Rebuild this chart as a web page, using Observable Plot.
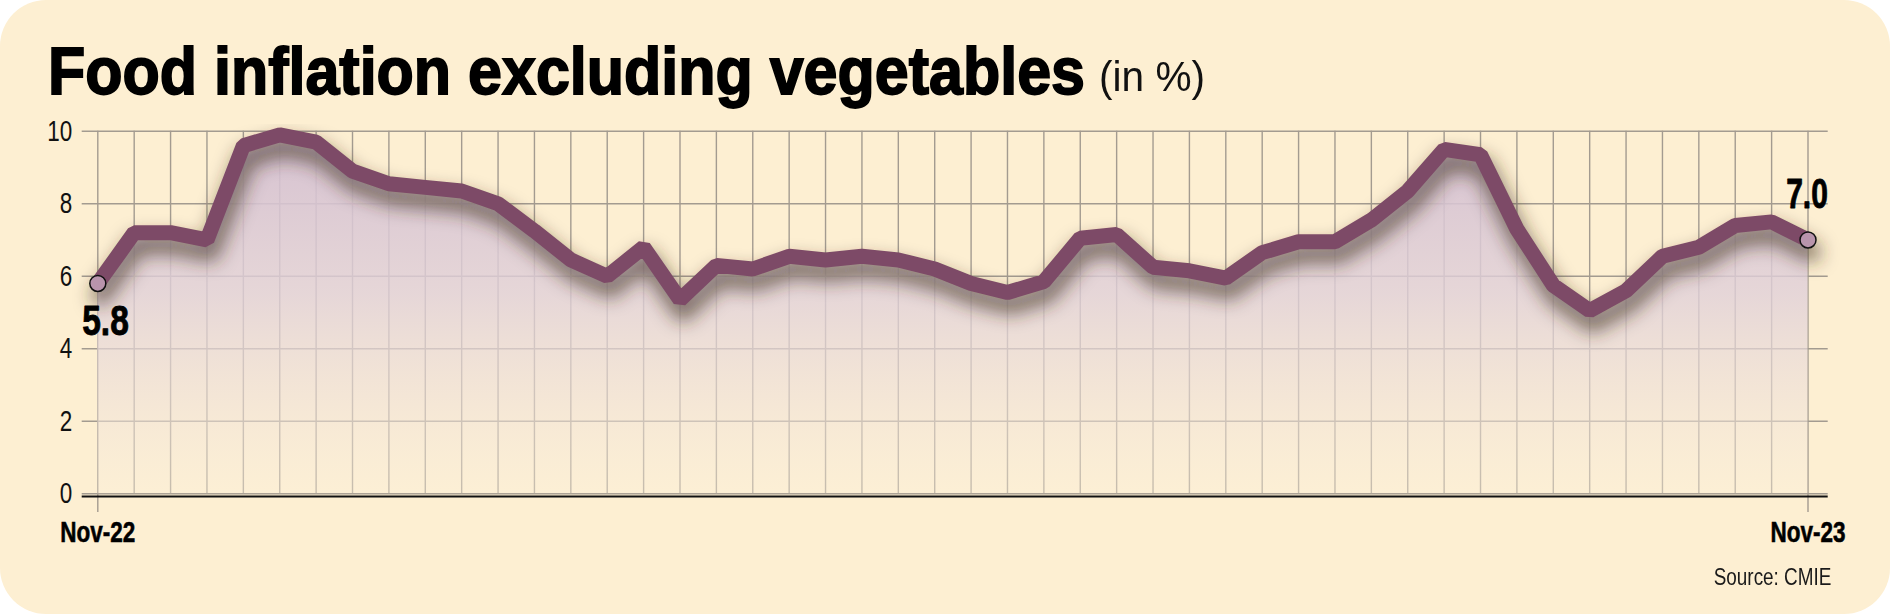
<!DOCTYPE html>
<html>
<head>
<meta charset="utf-8">
<script src="https://cdn.jsdelivr.net/npm/d3@7"></script>
<script src="https://cdn.jsdelivr.net/npm/@observablehq/plot@0.6"></script>
<style>
  html, body { margin: 0; padding: 0; background: #ffffff; }
  #card { position: absolute; left: 0; top: 0; width: 1890px; height: 614px; background: #fdefd2; border-radius: 46px; overflow: hidden; }
  .narrow { font-family: "Liberation Sans Narrow", "Arial Narrow", "Liberation Sans", sans-serif; }
  #title { position: absolute; left: 48px; font-size: 67px; line-height: 67px; font-weight: 700; color: #000; white-space: nowrap; -webkit-text-stroke: 1.8px #000; transform-origin: 0 0; }
  #unit { position: absolute; font-size: 42px; line-height: 42px; font-weight: 400; color: #111; white-space: nowrap; transform-origin: 0 0; }
  #source { position: absolute; font-size: 24px; line-height: 24px; color: #1a1a1a; white-space: nowrap; transform-origin: 100% 0; }
  #chart { position: absolute; left: 0; top: 112px; }
</style>
</head>
<body>
<div id="card">
  <div id="title" class="narrow">Food inflation excluding vegetables</div>
  <div id="unit" class="narrow">(in %)</div>
  <div id="chart"></div>
  <div id="source" class="narrow">Source: CMIE</div>
</div>
<script>
// ---- data ----
const values = [5.8, 7.2, 7.2, 7.0, 9.6, 9.9, 9.7, 8.9, 8.55, 8.45, 8.35, 8.0, 7.25, 6.45, 6.0, 6.8,
                5.35, 6.3, 6.2, 6.55, 6.45, 6.55, 6.45, 6.2, 5.8, 5.55, 5.85, 7.05, 7.15, 6.25, 6.15, 5.95,
                6.65, 6.95, 6.95, 7.55, 8.35, 9.5, 9.35, 7.3, 5.75, 5.05, 5.6, 6.55, 6.8, 7.4, 7.5, 7.0];
const yTicks = [0, 2, 4, 6, 8, 10];
const xTickPositions = [0, values.length - 1];
const xTickLabels = ["Nov-22", "Nov-23"];
const endLabels = ["5.8", "7.0"];

const data = values.map((v, i) => ({i, v}));
const ends = xTickPositions.map((p, k) => ({i: p, v: values[p], label: endLabels[k]}));

const F = "'Liberation Sans Narrow', 'Arial Narrow', 'Liberation Sans', sans-serif";
const grid = "#a39b90";
const shadowColor = "#3a2c22";

const chart = Plot.plot({
  width: 1890,
  height: 450,
  marginLeft: 81.7,
  marginRight: 62.3,
  marginTop: 18.7,
  marginBottom: 68.7,
  style: {background: "transparent", fontFamily: F, fontSize: "30px", color: "#111", overflow: "visible"},
  x: {domain: [0, values.length - 1], range: [97.3, 1807.5], ticks: xTickPositions,
      tickFormat: d => xTickLabels[xTickPositions.indexOf(d)], tickSize: 18.7, tickPadding: 8, label: null},
  y: {domain: [0, 10], ticks: yTicks, tickSize: 0, tickPadding: 10, label: null},
  marks: [
    Plot.ruleY(yTicks, {stroke: grid, strokeWidth: 1.4}),
    Plot.ruleX(data, {x: "i", y1: 0, y2: 10, stroke: grid, strokeWidth: 1.4}),
    Plot.areaY(data, {x: "i", y: "v", fill: "url(#areaGrad)"}),
    Plot.lineY(data, {x: "i", y: "v", stroke: shadowColor, strokeOpacity: 0.6, strokeWidth: 20, dx: 3, dy: 12}),
    Plot.ruleY([0], {stroke: "#111", strokeWidth: 2.2, dy: 2.7}),
    Plot.lineY(data, {x: "i", y: "v", stroke: "#7d4a67", strokeWidth: 15, strokeLinejoin: "miter"}),
    Plot.dot(ends, {x: "i", y: "v", r: 8, fill: "#b894ac", stroke: "#111", strokeWidth: 1.5}),
    Plot.text(ends.slice(0, 1), {x: "i", y: "v", text: "label", textAnchor: "start", dx: -15.6, dy: 38, fontSize: 42, fontWeight: 700, fill: "#000", stroke: "#000", strokeWidth: 0.9}),
    Plot.text(ends.slice(1), {x: "i", y: "v", text: "label", textAnchor: "middle", dx: -1, dy: -45, fontSize: 42, fontWeight: 700, fill: "#000", stroke: "#000", strokeWidth: 0.9})
  ]
});
document.getElementById("chart").appendChild(chart);

const svg = d3.select(chart);
const defs = svg.insert("defs", ":first-child");
const y0 = 381.3, y10 = 18.7;
const g = defs.append("linearGradient").attr("id", "areaGrad").attr("gradientUnits", "userSpaceOnUse")
  .attr("x1", 0).attr("x2", 0).attr("y1", y10).attr("y2", y0);
g.append("stop").attr("offset", "0").attr("stop-color", "#d3bed0").attr("stop-opacity", 0.95);
g.append("stop").attr("offset", "0.45").attr("stop-color", "#e0d0d9").attr("stop-opacity", 0.8);
g.append("stop").attr("offset", "1").attr("stop-color", "#fbefd9").attr("stop-opacity", 0.4);
const f = defs.append("filter").attr("id", "blurShadow").attr("filterUnits", "userSpaceOnUse")
  .attr("x", 0).attr("y", 0).attr("width", 1890).attr("height", 450);
f.append("feGaussianBlur").attr("stdDeviation", 9);
svg.selectAll(`[stroke="${shadowColor}"]`).attr("filter", "url(#blurShadow)");

// axis styling
svg.selectAll('g[aria-label^="x-axis"] text').attr("font-weight", 700).attr("font-size", 30).attr("fill", "#000")
  .attr("stroke", "#000").attr("stroke-width", 0.6);
svg.selectAll('g[aria-label^="x-axis"] line, g[aria-label^="x-axis"] path').attr("stroke", grid).attr("stroke-width", 1.4);
svg.selectAll('g[aria-label^="y-axis"] text').attr("font-size", 30).attr("fill", "#111");

// condense SVG text horizontally (no condensed face may be installed); only x is touched
function squeeze(el, s) {
  const xa = el.getAttribute("x");
  let x = 0;
  if (xa !== null && /^-?[\d.]+$/.test(xa.trim())) { x = +xa; el.setAttribute("x", 0); }
  const t = el.getAttribute("transform") || "";
  el.setAttribute("transform", `${t} translate(${x},0) scale(${s},1)`);
}
function fitNodes(nodes, refText, targetW) {
  const ref = nodes.find(n => n.textContent === refText) || nodes[0];
  if (!ref) return;
  const s = targetW / ref.getBBox().width;
  nodes.forEach(n => squeeze(n, s));
}
const allText = svg.selectAll("text").nodes();
fitNodes(svg.selectAll('g[aria-label^="y-axis"] text').nodes(), "10", 25);
fitNodes(svg.selectAll('g[aria-label^="x-axis"] text').nodes(), "Nov-22", 75);
fitNodes(allText.filter(n => n.textContent === endLabels[0]), endLabels[0], 46.6);
fitNodes(allText.filter(n => n.textContent === endLabels[1]), endLabels[1], 41.7);

// HTML text placement (baselines from reference)
function place(el, left, baseline, fs, targetW, anchorRight) {
  const asc = 0.905, desc = 0.212;
  const top = baseline - (asc + (1 - asc - desc) / 2) * fs;
  el.style.top = top + "px";
  const w = el.getBoundingClientRect().width;
  const s = targetW / w;
  el.style.left = (anchorRight ? left - w : left) + "px";
  el.style.transform = "scaleX(" + s + ")";
}
place(document.getElementById("title"), 48, 94, 67, 1037, false);
place(document.getElementById("unit"), 1099, 92, 42, 106, false);
place(document.getElementById("source"), 1831.7, 585.7, 24, 117.7, true);
</script>
</body>
</html>
